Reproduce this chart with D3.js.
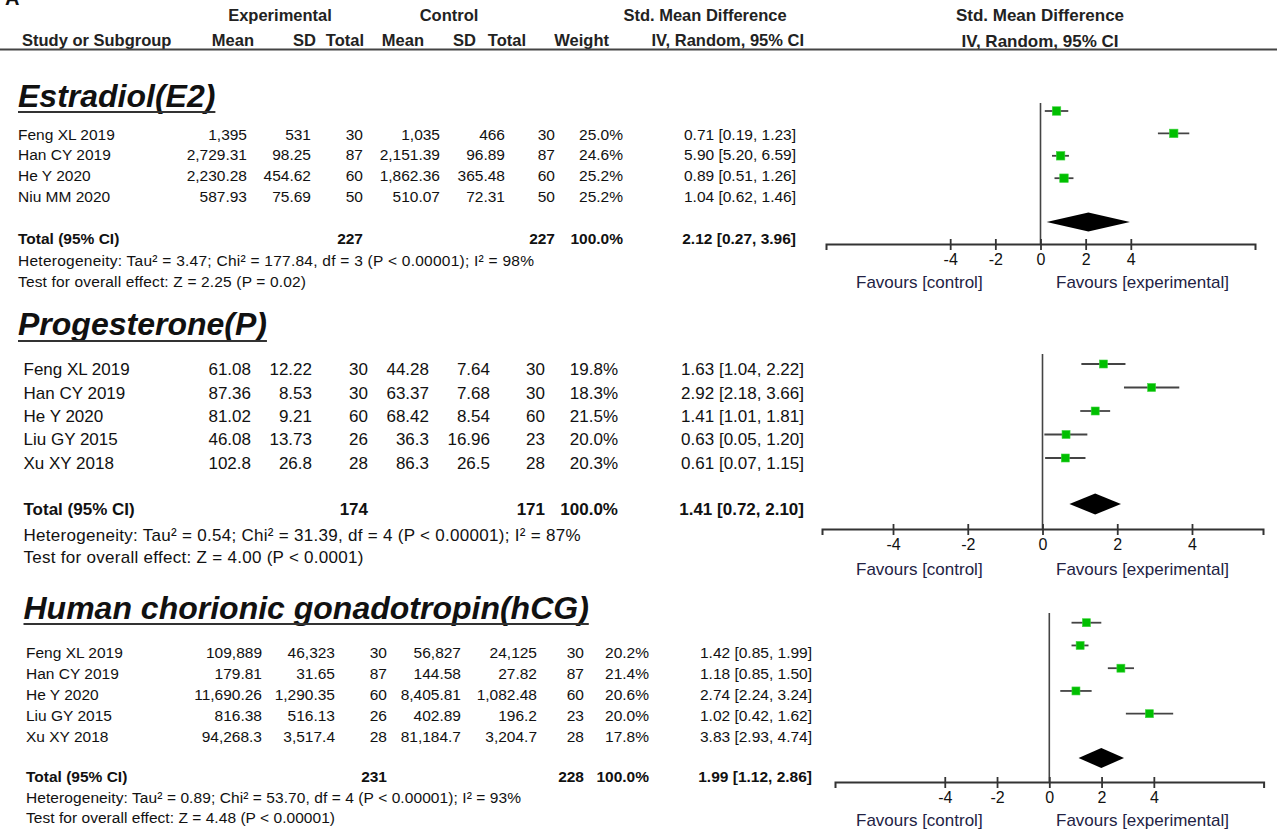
<!DOCTYPE html>
<html><head><meta charset="utf-8">
<script src="https://cdn.jsdelivr.net/npm/d3@7"></script>
<style>
html,body{margin:0;padding:0;background:#fff;}
svg{display:block;font-family:"Liberation Sans",Arial,Helvetica,sans-serif;}
</style></head>
<body><svg id="chart" width="1277" height="829"></svg>
<script>
// ---------------- DATA ----------------
const headerGroups = ["Experimental", "Control", "Std. Mean Difference"];
const headerCols = ["Study or Subgroup", "Mean", "SD", "Total", "Mean", "SD", "Total", "Weight", "IV, Random, 95% CI"];
const plotHeader = ["Std. Mean Difference", "IV, Random, 95% CI"];
const sectionTitles = ["Estradiol(E2)", "Progesterone(P)", "Human chorionic gonadotropin(hCG)"];
const axisTicks = [-4, -2, 0, 2, 4];
const favourLabels = ["Favours [control]", "Favours [experimental]"];

// Estradiol (E2)
const e2Study   = ["Feng XL 2019", "Han CY 2019", "He Y 2020", "Niu MM 2020"];
const e2ExpMean = [1395, 2729.31, 2230.28, 587.93];
const e2ExpSD   = [531, 98.25, 454.62, 75.69];
const e2ExpN    = [30, 87, 60, 50];
const e2CtlMean = [1035, 2151.39, 1862.36, 510.07];
const e2CtlSD   = [466, 96.89, 365.48, 72.31];
const e2CtlN    = [30, 87, 60, 50];
const e2Weight  = [25.0, 24.6, 25.2, 25.2];
const e2SMD     = [0.71, 5.90, 0.89, 1.04];
const e2Lo      = [0.19, 5.20, 0.51, 0.62];
const e2Hi      = [1.23, 6.59, 1.26, 1.46];
const e2Total   = [227, 227, 100.0];
const e2Pooled  = [2.12, 0.27, 3.96];
const e2Het     = "Heterogeneity: Tau\u00B2 = 3.47; Chi\u00B2 = 177.84, df = 3 (P < 0.00001); I\u00B2 = 98%";
const e2Test    = "Test for overall effect: Z = 2.25 (P = 0.02)";

// Progesterone (P)
const pStudy   = ["Feng XL 2019", "Han CY 2019", "He Y 2020", "Liu GY 2015", "Xu XY 2018"];
const pExpMean = [61.08, 87.36, 81.02, 46.08, 102.8];
const pExpSD   = [12.22, 8.53, 9.21, 13.73, 26.8];
const pExpN    = [30, 30, 60, 26, 28];
const pCtlMean = [44.28, 63.37, 68.42, 36.3, 86.3];
const pCtlSD   = [7.64, 7.68, 8.54, 16.96, 26.5];
const pCtlN    = [30, 30, 60, 23, 28];
const pWeight  = [19.8, 18.3, 21.5, 20.0, 20.3];
const pSMD     = [1.63, 2.92, 1.41, 0.63, 0.61];
const pLo      = [1.04, 2.18, 1.01, 0.05, 0.07];
const pHi      = [2.22, 3.66, 1.81, 1.20, 1.15];
const pTotal   = [174, 171, 100.0];
const pPooled  = [1.41, 0.72, 2.10];
const pHet     = "Heterogeneity: Tau\u00B2 = 0.54; Chi\u00B2 = 31.39, df = 4 (P < 0.00001); I\u00B2 = 87%";
const pTest    = "Test for overall effect: Z = 4.00 (P < 0.0001)";

// hCG
const hStudy   = ["Feng XL 2019", "Han CY 2019", "He Y 2020", "Liu GY 2015", "Xu XY 2018"];
const hExpMean = [109889, 179.81, 11690.26, 816.38, 94268.3];
const hExpSD   = [46323, 31.65, 1290.35, 516.13, 3517.4];
const hExpN    = [30, 87, 60, 26, 28];
const hCtlMean = [56827, 144.58, 8405.81, 402.89, 81184.7];
const hCtlSD   = [24125, 27.82, 1082.48, 196.2, 3204.7];
const hCtlN    = [30, 87, 60, 23, 28];
const hWeight  = [20.2, 21.4, 20.6, 20.0, 17.8];
const hSMD     = [1.42, 1.18, 2.74, 1.02, 3.83];
const hLo      = [0.85, 0.85, 2.24, 0.42, 2.93];
const hHi      = [1.99, 1.50, 3.24, 1.62, 4.74];
const hTotal   = [231, 228, 100.0];
const hPooled  = [1.99, 1.12, 2.86];
const hHet     = "Heterogeneity: Tau\u00B2 = 0.89; Chi\u00B2 = 53.70, df = 4 (P < 0.00001); I\u00B2 = 93%";
const hTest    = "Test for overall effect: Z = 4.48 (P < 0.00001)";

// ---------------- BUILD ----------------
const sections = [
  {title: sectionTitles[0], study: e2Study, expMean: e2ExpMean, expSD: e2ExpSD, expN: e2ExpN, ctlMean: e2CtlMean, ctlSD: e2CtlSD, ctlN: e2CtlN, weight: e2Weight, smd: e2SMD, lo: e2Lo, hi: e2Hi, total: e2Total, pooled: e2Pooled, het: e2Het, test: e2Test},
  {title: sectionTitles[1], study: pStudy, expMean: pExpMean, expSD: pExpSD, expN: pExpN, ctlMean: pCtlMean, ctlSD: pCtlSD, ctlN: pCtlN, weight: pWeight, smd: pSMD, lo: pLo, hi: pHi, total: pTotal, pooled: pPooled, het: pHet, test: pTest},
  {title: sectionTitles[2], study: hStudy, expMean: hExpMean, expSD: hExpSD, expN: hExpN, ctlMean: hCtlMean, ctlSD: hCtlSD, ctlN: hCtlN, weight: hWeight, smd: hSMD, lo: hLo, hi: hHi, total: hTotal, pooled: hPooled, het: hHet, test: hTest}
];

// layout (positions only)
const layouts = [
  {titleX: 18, titleY: 95, titleFs: 32, titleLine: 112,
   nameX: 18, cols: [247, 311, 363, 440, 505, 555, 623, 796], fs: 15.5,
   rowY0: 134, rowStep: 20.9, totalY: 238, hetY: 260, testY: 281, hetW: 516, testW: 288,
   dom: [-9.5, 9.5], rng: [826, 1255], axisY: 244, zeroTop: 103,
   pY0: 111, pStep: 22.4, diaY: 222, diaH: 9.5, sq: 8.5, tickY: 262, favY: 282},
  {titleX: 18, titleY: 323, titleFs: 32, titleLine: 341,
   nameX: 23.5, cols: [251, 312, 368, 429, 490, 545, 618, 804], fs: 17,
   rowY0: 369, rowStep: 23.4, totalY: 509, hetY: 535, testY: 557, hetW: 557, testW: 340,
   dom: [-5.9, 5.9], rng: [822, 1263], axisY: 529, zeroTop: 354,
   pY0: 364, pStep: 23.5, diaY: 504, diaH: 10.5, sq: 8, tickY: 547, favY: 569},
  {titleX: 23.5, titleY: 607, titleFs: 32, titleLine: 624,
   nameX: 26, cols: [262, 335, 387, 461, 537, 584, 649, 812], fs: 15.5,
   rowY0: 652.5, rowStep: 20.9, totalY: 776, hetY: 797, testY: 817, hetW: 495, testW: 309,
   dom: [-8.2, 8.2], rng: [835, 1263.6], axisY: 782, zeroTop: 613,
   pY0: 622.7, pStep: 22.75, diaY: 758, diaH: 10, sq: 8, tickY: 800, favY: 820}
];

const svg = d3.select("#chart");
const fmt = d3.format(",");
const ciFmt = (m, l, h) => `${m.toFixed(2)} [${l.toFixed(2)}, ${h.toFixed(2)}]`;
const base = (c, fs) => c + fs * 0.36;
const textCol = "#111";

// panel letter (cut off at top, as in the source figure)
svg.append("text").attr("x", 5).attr("y", 5).attr("font-size", 20).attr("font-weight", "bold").attr("fill", "#111").text("A");

// header
const hdr = svg.append("g").attr("font-weight", "bold").attr("font-size", 16.5).attr("fill", "#222");
const groupX = [280, 449, 705];
headerGroups.forEach((t, i) => hdr.append("text").attr("x", groupX[i]).attr("y", 21).attr("text-anchor", "middle").text(t));
const hColX = [22, 254, 316, 364, 424, 476, 526, 609, 804];
headerCols.forEach((t, i) => hdr.append("text").attr("x", hColX[i]).attr("y", 46)
  .attr("text-anchor", i === 0 ? "start" : "end").text(t));
plotHeader.forEach((t, i) => hdr.append("text").attr("x", 1040).attr("y", i === 0 ? 21 : 46.5)
  .attr("text-anchor", "middle").attr("font-size", 17).text(t));
svg.append("line").attr("x1", 0).attr("x2", 1277).attr("y1", 49.5).attr("y2", 49.5)
  .attr("stroke", "#444").attr("stroke-width", 2);

sections.forEach((s, si) => {
  const L = layouts[si];
  const g = svg.append("g");
  // title
  const tt = g.append("text").attr("x", L.titleX).attr("y", base(L.titleY, L.titleFs))
    .attr("font-size", L.titleFs).attr("font-weight", "bold").attr("font-style", "italic")
    .attr("fill", "#111").text(s.title);
  const tw = tt.node().getComputedTextLength();
  g.append("line").attr("x1", L.titleX).attr("x2", L.titleX + tw).attr("y1", L.titleLine).attr("y2", L.titleLine)
    .attr("stroke", "#333").attr("stroke-width", 2);

  // table rows
  const rowY = d3.scaleLinear().domain([0, 1]).range([L.rowY0, L.rowY0 + L.rowStep]);
  const rows = s.study.map((name, i) => [
    name, fmt(s.expMean[i]), fmt(s.expSD[i]), String(s.expN[i]), fmt(s.ctlMean[i]), fmt(s.ctlSD[i]),
    String(s.ctlN[i]), s.weight[i].toFixed(1) + "%", ciFmt(s.smd[i], s.lo[i], s.hi[i])
  ]);
  const rg = g.append("g").attr("font-size", L.fs).attr("fill", textCol);
  rows.forEach((r, i) => {
    const y = base(rowY(i), L.fs);
    r.forEach((cell, ci) => {
      rg.append("text").attr("x", ci === 0 ? L.nameX : L.cols[ci - 1]).attr("y", y)
        .attr("text-anchor", ci === 0 ? "start" : "end").text(cell);
    });
  });
  // total row
  const ty = base(L.totalY, L.fs);
  const tg = g.append("g").attr("font-size", L.fs).attr("font-weight", "bold").attr("fill", textCol);
  tg.append("text").attr("x", L.nameX).attr("y", ty).text("Total (95% CI)");
  tg.append("text").attr("x", L.cols[2]).attr("y", ty).attr("text-anchor", "end").text(s.total[0]);
  tg.append("text").attr("x", L.cols[5]).attr("y", ty).attr("text-anchor", "end").text(s.total[1]);
  tg.append("text").attr("x", L.cols[6]).attr("y", ty).attr("text-anchor", "end").text(s.total[2].toFixed(1) + "%");
  tg.append("text").attr("x", L.cols[7]).attr("y", ty).attr("text-anchor", "end").text(ciFmt(...s.pooled));
  rg.append("text").attr("x", L.nameX).attr("y", base(L.hetY, L.fs))
    .attr("textLength", L.hetW).attr("lengthAdjust", "spacing").text(s.het);
  rg.append("text").attr("x", L.nameX).attr("y", base(L.testY, L.fs))
    .attr("textLength", L.testW).attr("lengthAdjust", "spacing").text(s.test);

  // forest plot
  const x = d3.scaleLinear().domain(L.dom).range(L.rng);
  const py = d3.scaleLinear().domain([0, 1]).range([L.pY0, L.pY0 + L.pStep]);
  const pg = g.append("g");
  pg.append("line").attr("x1", x(0)).attr("x2", x(0)).attr("y1", L.zeroTop).attr("y2", L.axisY)
    .attr("stroke", "#444").attr("stroke-width", 1.6);
  // whiskers
  pg.selectAll(".ci").data(s.smd).join("line")
    .attr("x1", (d, i) => x(s.lo[i])).attr("x2", (d, i) => x(s.hi[i]))
    .attr("y1", (d, i) => py(i)).attr("y2", (d, i) => py(i))
    .attr("stroke", "#444").attr("stroke-width", 1.8);
  // squares
  pg.selectAll(".sq").data(s.smd).join("rect")
    .attr("x", d => x(d) - L.sq / 2).attr("y", (d, i) => py(i) - L.sq / 2)
    .attr("width", L.sq).attr("height", L.sq)
    .attr("fill", "#00bf00").attr("stroke", "#3fd43f").attr("stroke-width", 0.6);
  // diamond
  const [pm, pl, ph] = s.pooled;
  pg.append("path")
    .attr("d", d3.line()([[x(pl), L.diaY], [x(pm), L.diaY - L.diaH], [x(ph), L.diaY], [x(pm), L.diaY + L.diaH]]) + "Z")
    .attr("fill", "#000");
  // axis
  const ax = pg.append("g").attr("transform", `translate(0,${L.axisY})`)
    .call(d3.axisBottom(x).tickValues(axisTicks).tickFormat(d => String(d)).tickSizeOuter(0).tickSize(6));
  ax.select(".domain").attr("stroke", "#333").attr("stroke-width", 2);
  ax.selectAll(".tick line").attr("y1", -5).attr("y2", 6).attr("stroke", "#333").attr("stroke-width", 1.8);
  ax.selectAll(".tick text").attr("y", L.tickY - L.axisY - 8).attr("dy", "0.71em")
    .attr("font-size", 16).attr("fill", "#111").attr("font-family", "Liberation Sans, Arial, sans-serif");
  // favours
  pg.append("text").attr("x", 856).attr("y", base(L.favY, 17)).attr("font-size", 17).attr("fill", "#222244").text(favourLabels[0]);
  pg.append("text").attr("x", 1056).attr("y", base(L.favY, 17)).attr("font-size", 17).attr("fill", "#222244").text(favourLabels[1]);
});
</script>
</body></html>
